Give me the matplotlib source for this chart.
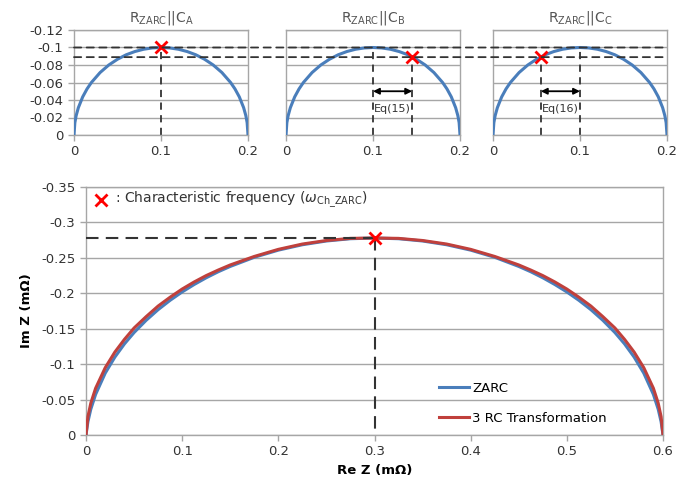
import matplotlib
matplotlib.use('Agg')

import matplotlib.pyplot as plt
from matplotlib.patches import ConnectionPatch

# ------------------------------------------------------------
# Datos
# ------------------------------------------------------------

# semicirculo R||C (R = 0.2 mOhm) de las tres graficas chicas
small_re = [0, 0.001, 0.0025, 0.005, 0.01, 0.015, 0.02, 0.03, 0.04, 0.05, 0.06, 0.07, 0.08, 0.09, 0.1,
            0.11, 0.12, 0.13, 0.14, 0.15, 0.16, 0.17, 0.18, 0.185, 0.19, 0.195, 0.1975, 0.199, 0.2]
small_im = [0, -0.0141, -0.0222, -0.0312, -0.0436, -0.0527, -0.06, -0.0714, -0.08, -0.0866, -0.0917, -0.0954, -0.098, -0.0995, -0.1,
            -0.0995, -0.098, -0.0954, -0.0917, -0.0866, -0.08, -0.0714, -0.06, -0.0527, -0.0436, -0.0312, -0.0222, -0.0141, 0]

small_titles = [r"R$_{\mathrm{ZARC}}$||C$_{\mathrm{A}}$",
                r"R$_{\mathrm{ZARC}}$||C$_{\mathrm{B}}$",
                r"R$_{\mathrm{ZARC}}$||C$_{\mathrm{C}}$"]
small_marker_re = [0.1, 0.145, 0.055]
small_marker_im = [-0.1, -0.089, -0.089]
small_eq_labels = [None, "Eq(15)", "Eq(16)"]
small_xticks = [0, 0.1, 0.2]
small_xticklabels = ["0", "0.1", "0.2"]
small_yticks = [0, -0.02, -0.04, -0.06, -0.08, -0.1, -0.12]
small_yticklabels = ["0", "-0.02", "-0.04", "-0.06", "-0.08", "-0.1", "-0.12"]

# ZARC vs transformacion a 3 RC
main_re = [0, 0.002, 0.005, 0.01, 0.02, 0.03, 0.04, 0.05, 0.0625, 0.075, 0.0875, 0.1, 0.1125, 0.125, 0.1375,
           0.15, 0.175, 0.2, 0.225, 0.25, 0.275, 0.3, 0.325, 0.35, 0.375, 0.4, 0.425, 0.45, 0.4625, 0.475,
           0.4875, 0.5, 0.5125, 0.525, 0.5375, 0.55, 0.56, 0.57, 0.58, 0.59, 0.595, 0.598, 0.6]
zarc_im = [0, -0.0188, -0.0364, -0.0573, -0.0873, -0.1099, -0.1286, -0.1446, -0.1618, -0.1769, -0.1901, -0.2019,
           -0.2124, -0.2219, -0.2304, -0.2379, -0.2508, -0.2609, -0.2685, -0.2738, -0.2770, -0.278, -0.2770,
           -0.2738, -0.2685, -0.2609, -0.2508, -0.2379, -0.2304, -0.2219, -0.2124, -0.2019, -0.1901, -0.1769,
           -0.1618, -0.1446, -0.1286, -0.1099, -0.0873, -0.0573, -0.0364, -0.0188, 0]
rc3_im = [0, -0.026, -0.045, -0.066, -0.095, -0.117, -0.135, -0.151, -0.167, -0.182, -0.1945, -0.206,
          -0.216, -0.225, -0.2328, -0.240, -0.252, -0.262, -0.2695, -0.2745, -0.2775, -0.278, -0.2775,
          -0.2745, -0.2695, -0.262, -0.252, -0.240, -0.2328, -0.225, -0.216, -0.206, -0.1945, -0.182,
          -0.167, -0.151, -0.135, -0.117, -0.095, -0.066, -0.045, -0.026, 0]
char_re = 0.3
char_im = -0.278

main_xticks = [0, 0.1, 0.2, 0.3, 0.4, 0.5, 0.6]
main_xticklabels = ["0", "0.1", "0.2", "0.3", "0.4", "0.5", "0.6"]
main_yticks = [0, -0.05, -0.1, -0.15, -0.2, -0.25, -0.3, -0.35]
main_yticklabels = ["0", "-0.05", "-0.1", "-0.15", "-0.2", "-0.25", "-0.3", "-0.35"]

BLUE = "#4a7ebb"
RED = "#c0403c"
GRID = "#a6a6a6"
DASH = "#333333"
TXT = "#333333"


def estilo_ejes(ax, fs):
    """Rejilla horizontal y marco gris estilo Excel"""
    ax.yaxis.grid(True, color=GRID, lw=1)
    ax.set_axisbelow(True)
    for s in ax.spines.values():
        s.set_color(GRID)
        s.set_linewidth(1)
    ax.tick_params(colors=GRID, labelcolor=TXT, labelsize=fs, length=4, width=1)


fig = plt.figure(figsize=(6.98, 4.8), dpi=100)

# ------------------------------------------------------------
# Graficas chicas R_ZARC || C
# ------------------------------------------------------------
lefts = [74, 286, 493]
width = 174
small_axes = []
for i, left in enumerate(lefts):
    ax = fig.add_axes([left / 698, 1 - 135 / 480, width / 698, 105 / 480])
    estilo_ejes(ax, 9.5)
    ax.plot(small_re, small_im, color=BLUE, lw=2.2, zorder=3)
    ax.set_xlim(0, 0.2)
    ax.set_ylim(0, -0.12)
    ax.set_xticks(small_xticks)
    ax.set_xticklabels(small_xticklabels)
    ax.set_yticks(small_yticks)
    if i == 0:
        ax.set_yticklabels(small_yticklabels)
    else:
        ax.set_yticklabels([])
        ax.tick_params(axis='y', length=0)
    ax.set_title(small_titles[i], fontsize=10, color="#555555", pad=6)

    # lineas punteadas hasta el punto marcado y hasta el pico
    ax.plot([0.1, 0.1], [0, -0.1], ls=(0, (4, 3)), color=DASH, lw=1.3, zorder=2)
    if small_marker_re[i] != 0.1:
        ax.plot([small_marker_re[i]] * 2, [0, small_marker_im[i]], ls=(0, (4, 3)), color=DASH, lw=1.3, zorder=2)
        x0, x1 = sorted([0.1, small_marker_re[i]])
        ax.annotate("", xy=(x0, -0.05), xytext=(x1, -0.05),
                    arrowprops=dict(arrowstyle="<|-|>", color="black", lw=1.3,
                                    mutation_scale=9, shrinkA=0, shrinkB=0))
        ax.text((x0 + x1) / 2, -0.03, small_eq_labels[i], fontsize=8, color=TXT,
                ha='center', va='center')
    ax.plot(small_marker_re[i], small_marker_im[i], 'x', color='red', ms=9, mew=2, zorder=5, clip_on=False)
    small_axes.append(ax)

# lineas horizontales que cruzan las tres graficas
for yv in [-0.1, -0.089]:
    con = ConnectionPatch(xyA=(0, yv), coordsA=small_axes[0].transData,
                          xyB=(0.2, yv), coordsB=small_axes[2].transData,
                          ls=(0, (4, 3)), color=DASH, lw=1.3, zorder=4)
    fig.add_artist(con)

# ------------------------------------------------------------
# Grafica principal
# ------------------------------------------------------------
ax = fig.add_axes([86 / 698, 1 - 435 / 480, 577 / 698, 248 / 480])
estilo_ejes(ax, 9.5)
ax.plot(main_re, zarc_im, color=BLUE, lw=2.2, label="ZARC", zorder=3)
ax.plot(main_re, rc3_im, color=RED, lw=2.2, label="3 RC Transformation", zorder=3)
ax.set_xlim(0, 0.6)
ax.set_ylim(0, -0.35)
ax.set_xticks(main_xticks)
ax.set_xticklabels(main_xticklabels)
ax.set_yticks(main_yticks)
ax.set_yticklabels(main_yticklabels)

ax.plot([0, char_re], [char_im, char_im], ls=(0, (6, 3.5)), color=DASH, lw=1.5, zorder=4)
ax.plot([char_re, char_re], [char_im, 0], ls=(0, (6, 3.5)), color=DASH, lw=1.5, zorder=4)
ax.plot(char_re, char_im, 'x', color='red', ms=9, mew=2, zorder=5)

# nota de la frecuencia caracteristica
ax.plot(0.026, 0.949, 'x', color='red', ms=9, mew=2, transform=ax.transAxes, clip_on=False)
ax.text(0.05, 0.949, r": Characteristic frequency ($\omega_{\mathrm{Ch\_ZARC}}$)", fontsize=10,
        color=TXT, transform=ax.transAxes, ha='left', va='center')

ax.set_xlabel("Re Z (mΩ)", fontsize=9.5, fontweight='bold', labelpad=4)
ax.set_ylabel("Im Z (mΩ)", fontsize=9.5, fontweight='bold', labelpad=6)

ax.legend(loc='lower left', bbox_to_anchor=(0.612, 0.04), frameon=False, fontsize=9.5,
          handlelength=2.3, handletextpad=0.2, labelspacing=1.3, borderpad=0, borderaxespad=0)

plt.savefig("out.png", dpi=100)
plt.close()
